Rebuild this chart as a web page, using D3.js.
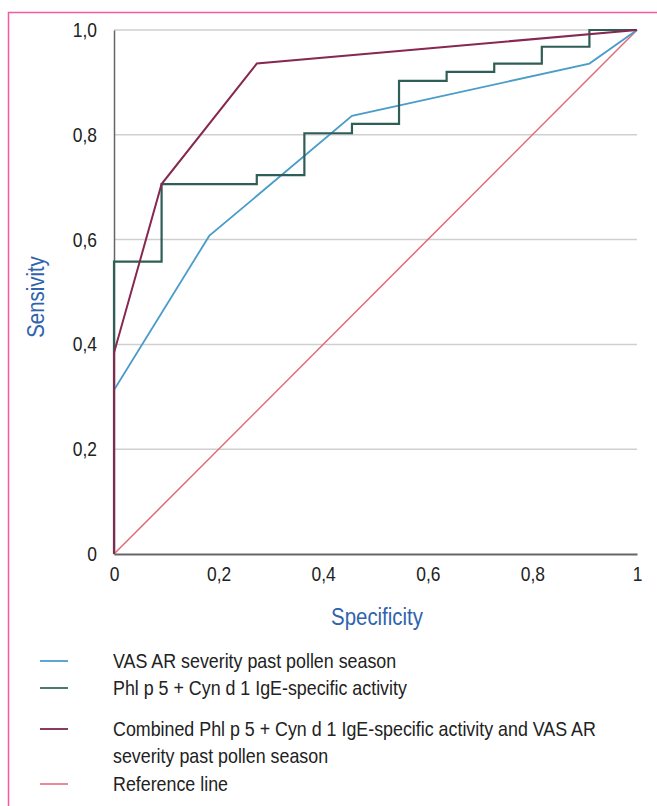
<!DOCTYPE html>
<html>
<head>
<meta charset="utf-8">
<script src="https://cdn.jsdelivr.net/npm/d3@7"></script>
<style>
body { margin:0; background:#fff; }
text { font-family: "Liberation Sans", Arial, sans-serif; }
</style>
</head>
<body>
<div id="chart"></div>
<script>
// ticks
var xTicks = [0, 0.2, 0.4, 0.6, 0.8, 1];
var yTicks = [0, 0.2, 0.4, 0.6, 0.8, 1.0];
var xTickLabels = ["0", "0,2", "0,4", "0,6", "0,8", "1"];
var yTickLabels = ["0", "0,2", "0,4", "0,6", "0,8", "1,0"];

// curves
var vasX = [0, 0, 0.182, 0.455, 0.909, 1];
var vasY = [0, 0.313, 0.607, 0.836, 0.936, 1];

var phlX = [0, 0, 0.091, 0.091, 0.273, 0.273, 0.364, 0.364, 0.455, 0.455, 0.545, 0.545, 0.636, 0.636, 0.727, 0.727, 0.818, 0.818, 0.909, 0.909, 1];
var phlY = [0, 0.558, 0.558, 0.706, 0.706, 0.723, 0.723, 0.803, 0.803, 0.821, 0.821, 0.903, 0.903, 0.920, 0.920, 0.936, 0.936, 0.968, 0.968, 1, 1];

var combX = [0, 0, 0.091, 0.273, 1];
var combY = [0, 0.384, 0.706, 0.936, 1];

var refX = [0, 1];
var refY = [0, 1];

var legendNames = [
  ["VAS AR severity past pollen season"],
  ["Phl p 5 + Cyn d 1 IgE-specific activity"],
  ["Combined Phl p 5 + Cyn d 1 IgE-specific activity and VAS AR", "severity past pollen season"],
  ["Reference line"]
];
var colors = ["#4a9cc9", "#2f5e56", "#86284f", "#e06a78"];
var legendColors = ["#5fa6d6", "#4a7a72", "#8a3c5e", "#ea8a96"];

var width = 657, height = 806;
var narrow = "scale(0.85,1)";   // the original uses a condensed face

var svg = d3.select("#chart").append("svg")
    .attr("width", width)
    .attr("height", height);

// pink frame (left + top)
svg.append("path")
    .attr("d", "M8.5,806 L8.5,12.5 L657,12.5")
    .attr("fill", "none")
    .attr("stroke", "#f25aa5")
    .attr("stroke-width", 1.5);

var x = d3.scaleLinear().domain([0, 1]).range([114, 637]);
var y = d3.scaleLinear().domain([0, 1]).range([554, 30]);

// gridlines
svg.selectAll("line.grid")
    .data(yTicks.slice(1))
    .enter()
    .append("line")
    .attr("x1", x(0)).attr("x2", x(1))
    .attr("y1", function(d){ return y(d); })
    .attr("y2", function(d){ return y(d); })
    .attr("stroke", "#cfcfcf")
    .attr("stroke-width", 1.5);

// axes
var yAxis = d3.axisLeft(y).tickValues(yTicks).tickSize(0).tickPadding(20)
    .tickFormat(function(d, i){ return yTickLabels[i]; });
var gy = svg.append("g").attr("transform", "translate(" + x(0) + ",0)").call(yAxis);
gy.select(".domain").attr("stroke", "#666").attr("stroke-width", 1.5);
gy.selectAll("text").attr("font-size", 20.5).attr("fill", "#222")
    .attr("font-family", "Liberation Sans, Arial, sans-serif")
    .attr("transform", narrow);

var xAxis = d3.axisBottom(x).tickValues(xTicks).tickSize(0).tickPadding(12)
    .tickFormat(function(d, i){ return xTickLabels[i]; });
var gx = svg.append("g").attr("transform", "translate(0," + y(0) + ")").call(xAxis);
gx.select(".domain").attr("stroke", "#666").attr("stroke-width", 2);
gx.selectAll("text").attr("font-size", 20.5).attr("fill", "#222")
    .attr("font-family", "Liberation Sans, Arial, sans-serif")
    .attr("transform", narrow);

// axis titles
svg.append("text")
    .attr("transform", "translate(377,625) " + narrow)
    .attr("text-anchor", "middle")
    .attr("font-size", 24)
    .attr("fill", "#2f63ad")
    .text("Specificity");

svg.append("text")
    .attr("transform", "translate(44,297) rotate(-90) " + narrow)
    .attr("text-anchor", "middle")
    .attr("font-size", 24)
    .attr("fill", "#2f63ad")
    .text("Sensivity");

// curves
var line = d3.line()
    .x(function(d){ return x(d[0]); })
    .y(function(d){ return y(d[1]); });

var series = [
  { xs: refX, ys: refY, c: colors[3], w: 1.5 },
  { xs: vasX, ys: vasY, c: colors[0], w: 1.8 },
  { xs: phlX, ys: phlY, c: colors[1], w: 2.2 },
  { xs: combX, ys: combY, c: colors[2], w: 2 }
];

svg.selectAll("path.curve")
    .data(series)
    .enter()
    .append("path")
    .attr("class", "curve")
    .attr("d", function(s){ return line(d3.zip(s.xs, s.ys)); })
    .attr("fill", "none")
    .attr("stroke", function(s){ return s.c; })
    .attr("stroke-width", function(s){ return s.w; });

// legend
var legendY = [661, 688, 729, 784];
var lg = svg.selectAll("g.leg")
    .data(legendNames)
    .enter()
    .append("g")
    .attr("transform", function(d, i){ return "translate(0," + legendY[i] + ")"; });

lg.append("line")
    .attr("x1", 40).attr("x2", 68)
    .attr("y1", 0).attr("y2", 0)
    .attr("stroke", function(d, i){ return legendColors[i]; })
    .attr("stroke-width", 2);

lg.selectAll("text")
    .data(function(d){ return d; })
    .enter()
    .append("text")
    .attr("transform", function(d, j){ return "translate(113," + (j * 27 + 7) + ") " + narrow; })
    .attr("font-size", 21)
    .attr("fill", "#222")
    .text(function(d){ return d; });
</script>
</body>
</html>
